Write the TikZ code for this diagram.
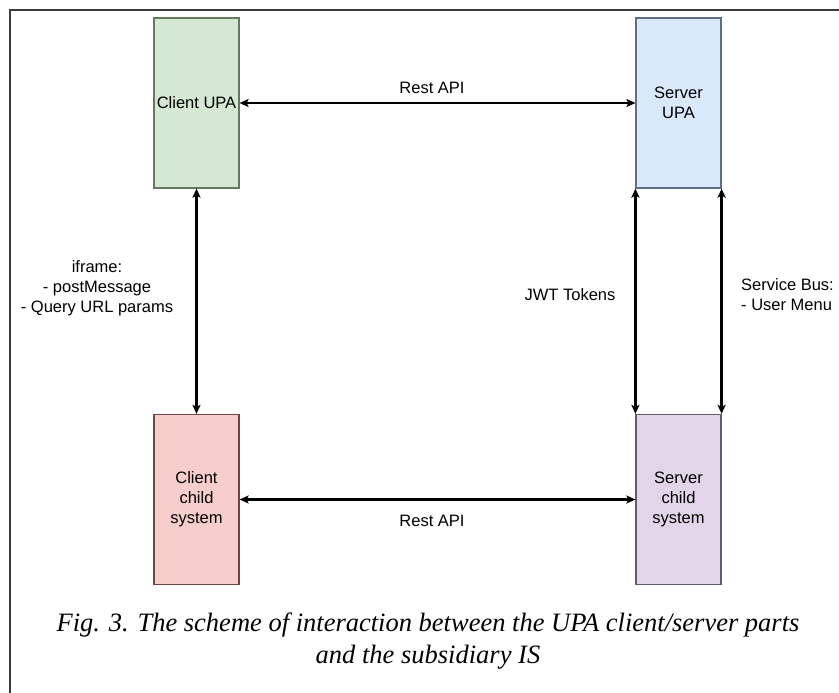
\documentclass[tikz,border=0pt]{standalone}
\usepackage{fontspec}
\setmainfont{Liberation Serif}
\newfontfamily\diafont{Liberation Sans}
\usetikzlibrary{arrows.meta}
\definecolor{gfill}{RGB}{213,232,212}
\definecolor{gdraw}{RGB}{100,120,95}
\definecolor{bfill}{RGB}{218,232,252}
\definecolor{bdraw}{RGB}{95,110,135}
\definecolor{rfill}{RGB}{248,206,204}
\definecolor{rdraw}{RGB}{110,70,70}
\definecolor{pfill}{RGB}{225,213,231}
\definecolor{pdraw}{RGB}{100,90,110}
\definecolor{framec}{RGB}{60,60,60}
\tikzset{
  box/.style={draw, line width=1.2pt, minimum width=85pt, minimum height=170pt, inner sep=0pt,
    align=center, font=\diafont\fontsize{16.5}{20}\selectfont},
  conn/.style={line width=2.8pt, {Stealth[length=9pt,width=8pt,inset=2pt]}-{Stealth[length=9pt,width=8pt,inset=2pt]}},
  lbl/.style={font=\diafont\fontsize{16.5}{20}\selectfont, align=center, inner sep=0pt},
  caption/.style={font=\itshape\fontsize{26.5}{32}\selectfont, align=center, inner sep=0pt}
}
\begin{document}
\begin{tikzpicture}[x=1pt,y=-1pt]
\useasboundingbox (0,0) rectangle (839,693);
\fill[white] (0,0) rectangle (839,693);
\draw[framec, line width=1.5pt] (10,700) -- (10,10) -- (845,10);
\node[box, fill=gfill, draw=gdraw] (cu) at (196.5,103) {Client UPA};
\node[box, fill=bfill, draw=bdraw] (su) at (678.5,103) {Server\\UPA};
\node[box, fill=rfill, draw=rdraw] (cc) at (196.5,499.5) {Client\\child\\system};
\node[box, fill=pfill, draw=pdraw] (sc) at (678.5,499.5) {Server\\child\\system};
\draw[conn] (cu.east) -- (su.west);
\draw[conn] (cc.east) -- (sc.west);
\draw[conn] (cu.south) -- (cc.north);
\draw[conn] (su.south west) -- (sc.north west);
\draw[conn] (su.south east) -- (sc.north east);
\node[lbl] (l1) at (432,88) {Rest API};
\node[lbl] (l2) at (432,521) {Rest API};
\node[lbl] (l3) at (97,288) {iframe:\\- postMessage\\- Query URL params};
\node[lbl] (l4) at (570,295) {JWT Tokens};
\node[lbl, align=left, anchor=west] (l5) at (741,295) {Service Bus:\\- User Menu};
\node[caption] (cap) at (428,641) {Fig. 3. The scheme of interaction between the UPA client/server parts\\and the subsidiary IS};
\end{tikzpicture}
\end{document}
